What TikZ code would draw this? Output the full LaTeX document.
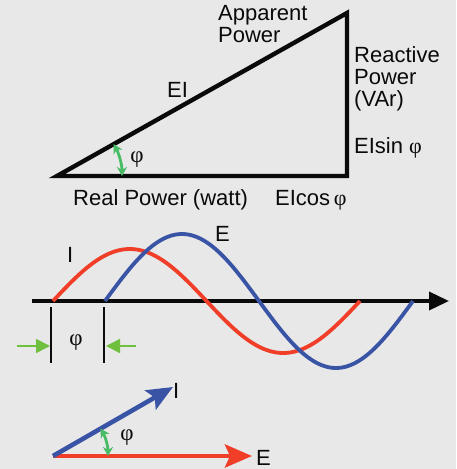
\documentclass[tikz,border=0pt]{standalone}
\usepackage{fontspec}
\setmainfont{Liberation Sans}
\newfontfamily\phifont{Liberation Serif}
\usetikzlibrary{arrows.meta}
\definecolor{bg}{RGB}{232,232,232}
\definecolor{wred}{RGB}{240,62,40}
\definecolor{wblue}{RGB}{58,84,165}
\definecolor{agreen}{RGB}{72,188,100}
\definecolor{hgreen}{RGB}{112,192,64}
\definecolor{ink}{RGB}{10,10,10}
\tikzset{
  lbl/.style={inner sep=0pt, anchor=base west, text=ink, font=\fontsize{22}{22}\selectfont},
  philbl/.style={inner sep=0pt, anchor=center, text=ink, font=\fontsize{23}{23}\selectfont\phifont},
  anglearc/.style={draw=agreen, line width=2.8pt, {Stealth[length=9pt,width=10pt]}-{Stealth[length=9pt,width=10pt]}},
  hint/.style={draw=hgreen, line width=1.8pt, -{Triangle[length=14pt,width=14pt]}},
  bar/.style={draw=ink, line width=2.2pt},
}
\begin{document}
\begin{tikzpicture}[x=1pt,y=-1pt]
\fill[bg] (0,0) rectangle (456,469);
\useasboundingbox (0,0) rectangle (456,469);
% power triangle
\coordinate (A) at (57,176);
\coordinate (B) at (347,176);
\coordinate (C) at (347,13);
\draw[ink, line width=4.4pt, line join=miter] (A) -- (B) -- (C) -- cycle;
\draw[anglearc] (A) ++(-29.3:65) arc[start angle=-29.3, end angle=0, radius=65];
\node[philbl] (phi1) at (137,160) {φ};
\node[lbl, align=left, anchor=north west, font=\fontsize{22}{22}\selectfont] (app) at (218,5.5) {Apparent\\Power};
\node[lbl] (ei) at (167,97) {EI};
\node[lbl, align=left, anchor=north west, font=\fontsize{22}{22}\selectfont] (react) at (354,46) {Reactive\\Power\\(VAr)};
\node[lbl] (eisin) at (354,153) {EIsin {\phifont φ}};
\node[lbl] (real) at (73,205) {Real Power (watt)};
\node[lbl] (eicos) at (275,205) {EIcos\,{\phifont φ}};
% waves
\coordinate (ax0) at (32,301);
\coordinate (ax1) at (449,301);
\draw[ink, line width=3.6pt, -{Triangle[length=20pt,width=18pt]}] (ax0) -- (ax1);
\draw[wred, line width=3.8pt] plot[domain=53:360, samples=120] (\x, {301 - 52*sin((\x-53)/307*360)});
\draw[wblue, line width=3.8pt] plot[domain=105:413, samples=120] (\x, {301 - 67*sin((\x-105)/308*360)});
\node[lbl] (lI) at (67,262) {I};
\node[lbl] (lE) at (215,241) {E};
\coordinate (b1t) at (51,307); \coordinate (b1b) at (51,363);
\coordinate (b2t) at (104,307); \coordinate (b2b) at (104,363);
\draw[bar] (b1t) -- (b1b);
\draw[bar] (b2t) -- (b2b);
\node[philbl] (phi2) at (76,343) {φ};
\coordinate (h1s) at (17,346); \coordinate (h1e) at (50,346);
\coordinate (h2s) at (136,346); \coordinate (h2e) at (106,346);
\draw[hint] (h1s) -- (h1e);
\draw[hint] (h2s) -- (h2e);
% phasors
\coordinate (O) at (53,456);
\coordinate (Et) at (252,456);
\coordinate (It) at (173,387);
\draw[wred, line width=4.6pt, -{Stealth[length=27pt,width=23pt,inset=5pt]}] (O) -- (Et);
\draw[wblue, line width=4.6pt, -{Stealth[length=26pt,width=22pt,inset=5pt]}] (O) -- (It);
\draw[anglearc] (O) ++(-29.9:55) arc[start angle=-29.9, end angle=0, radius=55];
\node[philbl] (phi3) at (127,438) {φ};
\node[lbl] (pI) at (173,398) {I};
\node[lbl] (pE) at (256,465.5) {E};
\end{tikzpicture}
\end{document}
